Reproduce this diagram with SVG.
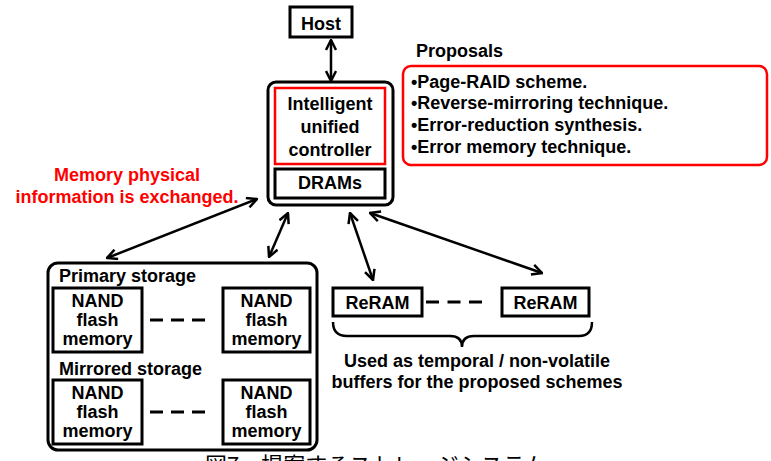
<svg xmlns="http://www.w3.org/2000/svg" width="771" height="461" viewBox="0 0 771 461">
<style>
text{font-family:"Liberation Sans",Arial,sans-serif;font-weight:bold;font-size:18px;fill:#000}
.c{text-anchor:middle}
.red{fill:#f00}
.box{fill:#fff;stroke:#000;stroke-width:3}
.rbox{fill:none;stroke:#f00;stroke-width:2.5}
.conn{stroke:#000;stroke-width:2.5;fill:none;marker-start:url(#ah);marker-end:url(#ah)}
.dash{stroke:#000;stroke-width:3;fill:none}
.cap{font-family:"Noto Sans CJK JP",sans-serif;font-weight:normal;font-size:22px}
</style>
<defs>
<marker id="ah" viewBox="0 0 12 12" refX="11" refY="6" markerWidth="12" markerHeight="12" markerUnits="userSpaceOnUse" orient="auto-start-reverse">
<path d="M1,1 L11,6 L1,11" fill="none" stroke="#000" stroke-width="2.5"/>
</marker>
</defs>
<rect width="771" height="461" fill="#fff"/>

<g id="connectors">
<line class="conn" x1="331" y1="40" x2="331" y2="81"/>
<line class="conn" x1="257" y1="199" x2="107" y2="258"/>
<line class="conn" x1="288" y1="213" x2="269" y2="257"/>
<line class="conn" x1="350" y1="213" x2="373" y2="280"/>
<line class="conn" x1="370" y1="213" x2="542" y2="273"/>
</g>

<g id="host">
<rect class="box" x="290" y="7" width="62" height="30"/>
<text class="c" x="321" y="30">Host</text>
</g>

<g id="controller">
<rect class="box" x="268" y="82" width="125" height="123" rx="8"/>
<rect class="rbox" x="275" y="88" width="110" height="76"/>
<text class="c" x="330" y="110">Intelligent</text>
<text class="c" x="330" y="133">unified</text>
<text class="c" x="330" y="156">controller</text>
</g>

<g id="drams">
<rect class="box" x="275" y="169" width="110" height="29"/>
<text class="c" x="330" y="189">DRAMs</text>
</g>

<g id="proposals">
<text x="416" y="57">Proposals</text>
<rect class="rbox" x="403" y="66" width="364" height="99" rx="8"/>
<text x="411" y="88">•Page-RAID scheme.</text>
<text x="411" y="109">•Reverse-mirroring technique.</text>
<text x="411" y="131">•Error-reduction synthesis.</text>
<text x="411" y="153">•Error memory technique.</text>
</g>

<g id="note">
<text class="c red" x="127" y="181">Memory physical</text>
<text class="c red" x="127" y="203">information is exchanged.</text>
</g>

<g id="storage">
<rect class="box" x="48" y="263" width="269" height="187" rx="10"/>
<text x="59" y="282">Primary storage</text>
<text x="59" y="375">Mirrored storage</text>
</g>

<g id="nand1">
<rect class="box" x="53" y="288" width="89" height="64"/>
<text class="c" x="97.5" y="307">NAND</text>
<text class="c" x="97.5" y="326">flash</text>
<text class="c" x="97.5" y="345">memory</text>
</g>
<g id="nand2">
<rect class="box" x="223" y="288" width="87" height="64"/>
<text class="c" x="266.5" y="307">NAND</text>
<text class="c" x="266.5" y="326">flash</text>
<text class="c" x="266.5" y="345">memory</text>
</g>
<g id="nand3">
<rect class="box" x="53" y="380" width="89" height="64"/>
<text class="c" x="97.5" y="399">NAND</text>
<text class="c" x="97.5" y="418">flash</text>
<text class="c" x="97.5" y="437">memory</text>
</g>
<g id="nand4">
<rect class="box" x="223" y="380" width="87" height="64"/>
<text class="c" x="266.5" y="399">NAND</text>
<text class="c" x="266.5" y="418">flash</text>
<text class="c" x="266.5" y="437">memory</text>
</g>
<g id="nand-dashes">
<line class="dash" x1="150" y1="320" x2="205" y2="320" stroke-dasharray="13 8"/>
<line class="dash" x1="150" y1="412" x2="205" y2="412" stroke-dasharray="13 8"/>
</g>

<g id="reram1">
<rect class="box" x="333" y="288" width="89" height="28"/>
<text class="c" x="377.5" y="309">ReRAM</text>
</g>
<g id="reram2">
<rect class="box" x="502" y="288" width="87" height="28"/>
<text class="c" x="545.5" y="309">ReRAM</text>
</g>
<g id="reram-group">
<line class="dash" x1="426" y1="302" x2="482" y2="302" stroke-dasharray="13 8.5"/>
<path d="M333,322 Q333,336 347,336 L450,336 Q462,336 462,347 Q462,336 474,336 L579,336 Q592,336 592,322" fill="none" stroke="#000" stroke-width="2.5"/>
<text class="c" x="477" y="367">Used as temporal / non-volatile</text>
<text class="c" x="477" y="388">buffers for the proposed schemes</text>
</g>

<text class="cap" x="205" y="473">図7　提案するストレージシステム</text>
</svg>
